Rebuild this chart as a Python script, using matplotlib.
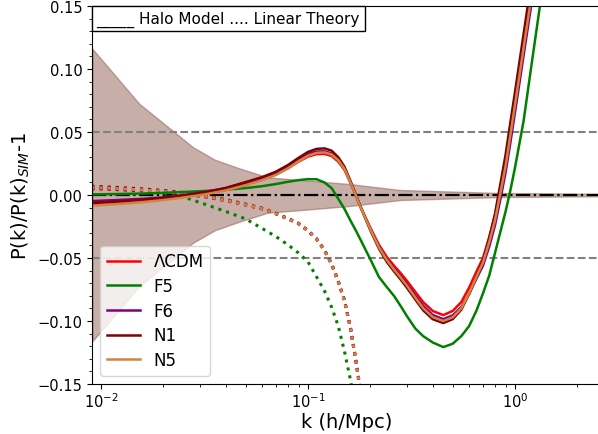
import matplotlib
matplotlib.use("Agg")
import matplotlib.pyplot as plt
from matplotlib.ticker import MultipleLocator
from matplotlib.offsetbox import AnchoredText

# halo model ratio P(k)/P_sim - 1 for each model
k_halo = [0.009, 0.012, 0.016, 0.02, 0.025, 0.032, 0.04, 0.05, 0.06, 0.07, 0.08, 0.09,
          0.1, 0.11, 0.12, 0.13, 0.14, 0.15, 0.16, 0.17, 0.18, 0.2, 0.22, 0.24, 0.26, 0.28,
          0.3, 0.33, 0.36, 0.4, 0.45, 0.5, 0.55, 0.6, 0.65, 0.7, 0.75, 0.8, 0.85, 0.9,
          0.95, 1.0, 1.1, 1.2, 1.3, 1.4]

lcdm_halo = [-0.0070, -0.0058, -0.0044, -0.0030, -0.0012, 0.0012, 0.0042, 0.0085, 0.0122, 0.0162,
             0.0212, 0.0265, 0.0305, 0.0324, 0.0326, 0.0310, 0.0265, 0.0200, 0.0100, 0.0000,
             -0.0100, -0.0260, -0.0395, -0.0490, -0.0560, -0.0620, -0.0680, -0.0770, -0.0850,
             -0.0920, -0.0953, -0.0920, -0.0850, -0.0735, -0.0610, -0.0500, -0.0335, -0.0160,
             0.0060, 0.0270, 0.0520, 0.0760, 0.1210, 0.1620, 0.2000, 0.2400]

f5_halo = [0.0005, 0.0008, 0.0012, 0.0017, 0.0024, 0.0032, 0.0042, 0.0055, 0.0070, 0.0087,
           0.0105, 0.0118, 0.0126, 0.0125, 0.0100, 0.0055, -0.0030, -0.0110, -0.0200, -0.0280,
           -0.0360, -0.0510, -0.0650, -0.0730, -0.0800, -0.0880, -0.0960, -0.1060, -0.1120,
           -0.1170, -0.1207, -0.1180, -0.1120, -0.1040, -0.0920, -0.0780, -0.0640, -0.0460,
           -0.0290, -0.0130, 0.0040, 0.0220, 0.0590, 0.1030, 0.1430, 0.1800]

f6_halo = [-0.0048, -0.0040, -0.0030, -0.0018, 0.0000, 0.0025, 0.0055, 0.0100, 0.0138, 0.0178,
           0.0228, 0.0282, 0.0325, 0.0345, 0.0347, 0.0330, 0.0282, 0.0212, 0.0108, 0.0003,
           -0.0100, -0.0270, -0.0410, -0.0510, -0.0580, -0.0645, -0.0705, -0.0800, -0.0880,
           -0.0952, -0.0985, -0.0955, -0.0890, -0.0785, -0.0665, -0.0560, -0.0410, -0.0240,
           -0.0030, 0.0180, 0.0420, 0.0660, 0.1110, 0.1520, 0.1900, 0.2300]

n1_halo = [-0.0063, -0.0052, -0.0038, -0.0024, -0.0005, 0.0022, 0.0055, 0.0102, 0.0142, 0.0185,
           0.0238, 0.0295, 0.0342, 0.0366, 0.0370, 0.0352, 0.0300, 0.0225, 0.0115, 0.0005,
           -0.0100, -0.0280, -0.0425, -0.0530, -0.0605, -0.0670, -0.0735, -0.0830, -0.0915,
           -0.0985, -0.1016, -0.0985, -0.0910, -0.0785, -0.0645, -0.0520, -0.0345, -0.0150,
           0.0090, 0.0320, 0.0580, 0.0820, 0.1280, 0.1700, 0.2100, 0.2500]

n5_halo = [-0.0085, -0.0072, -0.0056, -0.0040, -0.0020, 0.0006, 0.0036, 0.0078, 0.0118, 0.0160,
           0.0212, 0.0268, 0.0312, 0.0334, 0.0338, 0.0322, 0.0276, 0.0208, 0.0104, 0.0000,
           -0.0102, -0.0272, -0.0415, -0.0515, -0.0590, -0.0655, -0.0718, -0.0815, -0.0898,
           -0.0968, -0.1000, -0.0970, -0.0900, -0.0780, -0.0650, -0.0535, -0.0375, -0.0200,
           0.0020, 0.0230, 0.0480, 0.0720, 0.1170, 0.1580, 0.1960, 0.2360]

# linear theory
k_lin = [0.009, 0.012, 0.016, 0.02, 0.025, 0.032, 0.04, 0.05, 0.06, 0.07, 0.08, 0.09,
         0.1, 0.11, 0.12, 0.13, 0.14, 0.15, 0.16, 0.17, 0.18]

lcdm_lin = [0.0050, 0.0042, 0.0032, 0.0022, 0.0008, -0.0015, -0.0045, -0.0080, -0.0110, -0.0150,
            -0.0190, -0.0228, -0.0285, -0.0350, -0.0440, -0.0550, -0.0690, -0.0840, -0.1050,
            -0.1310, -0.1580]
f5_lin = [0.0060, 0.0050, 0.0035, 0.0012, -0.0015, -0.0075, -0.0130, -0.0190, -0.0265, -0.0330,
          -0.0395, -0.0460, -0.0530, -0.0650, -0.0760, -0.0890, -0.1040, -0.1240, -0.1460,
          -0.1700, -0.1950]
f6_lin = [0.0055, 0.0046, 0.0035, 0.0024, 0.0010, -0.0013, -0.0043, -0.0078, -0.0108, -0.0148,
          -0.0188, -0.0226, -0.0283, -0.0348, -0.0437, -0.0547, -0.0686, -0.0836, -0.1045,
          -0.1305, -0.1575]
n1_lin = [0.0070, 0.0060, 0.0048, 0.0036, 0.0020, -0.0004, -0.0036, -0.0072, -0.0104, -0.0145,
          -0.0186, -0.0225, -0.0282, -0.0347, -0.0436, -0.0546, -0.0685, -0.0835, -0.1045,
          -0.1305, -0.1575]
n5_lin = [0.0060, 0.0051, 0.0040, 0.0029, 0.0014, -0.0010, -0.0041, -0.0077, -0.0108, -0.0148,
          -0.0189, -0.0227, -0.0284, -0.0349, -0.0439, -0.0549, -0.0689, -0.0839, -0.1048,
          -0.1308, -0.1578]

# simulation error band
k_band = [0.0091, 0.0153, 0.023, 0.0278, 0.0355, 0.0469, 0.0641, 0.0914, 0.1595, 0.278, 0.847, 2.6]
band_hi = [0.116, 0.0725, 0.049, 0.038, 0.028, 0.021, 0.014, 0.012, 0.0087, 0.0040, 0.0016, 0.001]
band_lo = [-v for v in band_hi]

labels = ["ΛCDM", "F5", "F6", "N1", "N5"]
colors = ["red", "green", "purple", "maroon", "peru"]
halo = [lcdm_halo, f5_halo, f6_halo, n1_halo, n5_halo]
lin = [lcdm_lin, f5_lin, f6_lin, n1_lin, n5_lin]

fig = plt.figure(figsize=(5.98, 4.35), dpi=100)
ax = fig.add_axes([0.1538, 0.1149, 0.8512, 0.869])

ax.fill_between(k_band, band_lo, band_hi, color="tab:brown", alpha=0.48)
ax.axhline(0.05, color="gray", ls="--", lw=1.5)
ax.axhline(-0.05, color="gray", ls="--", lw=1.5)
ax.axhline(0.0, color="black", ls="-.", lw=1.6)

for y, c in zip(lin, colors):
    ax.plot(k_lin, y, color=c, ls=":", lw=2.2)
for y, c, lab in zip(halo, colors, labels):
    ax.plot(k_halo, y, color=c, lw=1.8, label=lab)

ax.set_xscale("log")
ax.set_xlim(0.00905, 2.6)
ax.set_ylim(-0.15, 0.15)
ax.yaxis.set_major_locator(MultipleLocator(0.05))
ax.yaxis.set_minor_locator(MultipleLocator(0.01))
ax.tick_params(labelsize=10.5)
ax.tick_params(axis="x", pad=2)
ax.set_xlabel("k (h/Mpc)", fontsize=14, labelpad=1)
ax.set_ylabel("P(k)/P(k)$_{SIM}$-1", fontsize=14)

ax.legend(loc="lower left", fontsize=12, labelspacing=0.4)

box = AnchoredText("_____ Halo Model .... Linear Theory", loc="upper left",
                   borderpad=0, pad=0.3, prop=dict(size=11))
box.patch.set_boxstyle("square,pad=0")
ax.add_artist(box)

fig.savefig("out.png", dpi=100)
